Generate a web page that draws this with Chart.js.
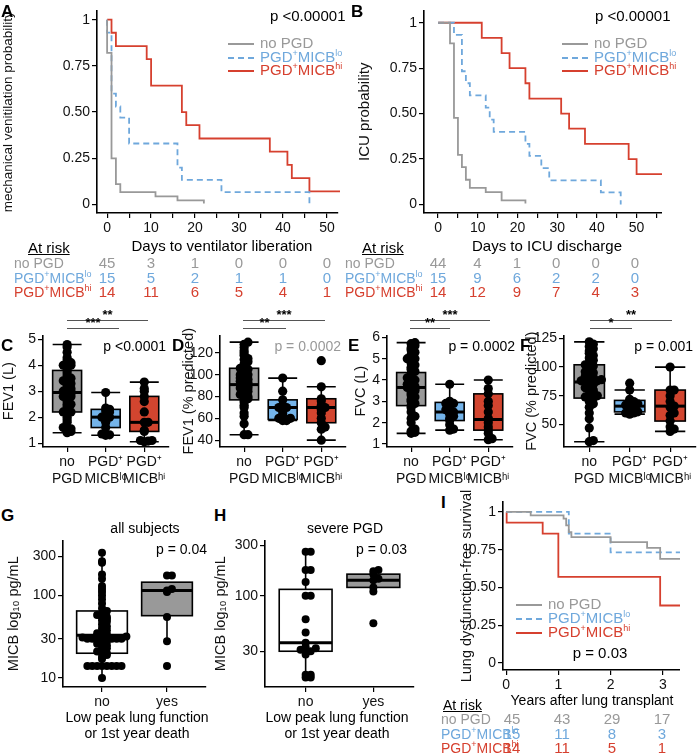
<!DOCTYPE html>
<html>
<head>
<meta charset="utf-8">
<script src="https://cdn.jsdelivr.net/npm/chart.js@4.4.1/dist/chart.umd.min.js"></script>
<style>
  body { margin:0; background:#fff; font-family:"Liberation Sans", Arial, sans-serif; }
  #wrap { position:relative; width:700px; height:753px; overflow:hidden; }
  canvas { position:absolute; }
  .t { position:absolute; white-space:nowrap; font-size:14px; line-height:14px; }
  .lt { position:absolute; font-weight:bold; font-size:17px; }
  sup { font-size:9px; vertical-align:6px; line-height:0; }
  .c { transform:translateX(-50%); }
  .r { transform:translateX(-100%); }
  .ln { position:absolute; width:26px; height:0; }
  .bar { position:absolute; height:0; border-top:1.2px solid #555; }
</style>
</head>
<body>
<div id="wrap"></div>
<script>
// colours
const GREY = '#999999', BLUE = '#6fa8dc', RED = '#d6402f';
const BOXGREY = '#999999', BOXBLUE = '#74b4ea', BOXRED = '#d2452f';

// ---- A: days to ventilator liberation
const aNoT = [0, 0, 1, 2, 3, 11, 16, 22, 22];
const aNoS = [1, 0.82, 0.25, 0.11, 0.067, 0.044, 0.022, 0.022, 0.005];
const aLoT = [0, 0, 1, 2, 3, 5, 16, 17, 26, 46];
const aLoS = [1, 0.93, 0.6, 0.53, 0.47, 0.33, 0.2, 0.133, 0.067, 0];
const aHiT = [0, 1, 2, 9, 10, 17, 18, 21, 37, 41, 42, 46, 53];
const aHiS = [1, 0.929, 0.857, 0.786, 0.643, 0.5, 0.429, 0.357, 0.286, 0.214, 0.143, 0.071, 0.071];
const aRiskNo = [45, 3, 1, 0, 0, 0];
const aRiskLo = [15, 5, 2, 1, 1, 0];
const aRiskHi = [14, 11, 6, 5, 4, 1];

// ---- B: days to ICU discharge
const bNoT = [0, 3, 4, 5, 6, 7, 8, 12, 16, 22, 22];
const bNoS = [1, 0.886, 0.477, 0.273, 0.205, 0.136, 0.091, 0.068, 0.023, 0.023, 0.005];
const bLoT = [0, 4, 6, 7, 8, 12, 13, 14, 22, 23, 26, 28, 41, 46];
const bLoS = [1, 0.933, 0.733, 0.667, 0.6, 0.533, 0.467, 0.4, 0.333, 0.267, 0.2, 0.133, 0.067, 0];
const bHiT = [0, 11, 16, 18, 22, 23, 31, 33, 37, 48, 50, 57];
const bHiS = [1, 0.917, 0.833, 0.75, 0.667, 0.583, 0.5, 0.417, 0.333, 0.25, 0.167, 0.167];
const bRiskNo = [44, 4, 1, 0, 0, 0];
const bRiskLo = [15, 9, 6, 2, 2, 0];
const bRiskHi = [14, 12, 9, 7, 4, 3];

// ---- I: years after lung transplant
const iNoT = [0, 0.47, 1.1, 1.15, 1.2, 1.25, 2.0, 2.7, 2.95, 3.33];
const iNoS = [1, 0.978, 0.956, 0.911, 0.867, 0.833, 0.8, 0.762, 0.69, 0.69];
const iLoT = [0, 1.2, 2.0, 3.33];
const iLoS = [1, 0.857, 0.733, 0.733];
const iHiT = [0, 0.01, 0.7, 1.0, 2.95, 3.33];
const iHiS = [1, 0.929, 0.857, 0.571, 0.381, 0.381];
const iRiskNo = [45, 43, 29, 17];
const iRiskLo = [15, 11, 8, 3];
const iRiskHi = [14, 11, 5, 1];

// ---- box plots: [min, q1, median, q3, max]
const groupLabels = [['no', 'PGD'], ['PGD⁺', 'MICBˡᵒ'], ['PGD⁺', 'MICBʰⁱ']];
const cStats = [[1.4, 2.2, 2.95, 3.8, 4.8], [1.3, 1.6, 2.0, 2.3, 2.95], [1.05, 1.45, 1.8, 2.8, 3.35]];
const cNo = [1.4,1.45,1.5,1.55,1.6,1.8,1.9,2.0,2.1,2.2,2.2,2.3,2.4,2.5,2.5,2.6,2.7,2.8,2.8,2.9,2.9,3.0,3.0,3.0,3.1,3.1,3.2,3.3,3.3,3.4,3.5,3.5,3.6,3.7,3.8,3.9,4.0,4.0,4.1,4.1,4.2,4.3,4.5,4.7,4.8];
const cLo = [1.3,1.32,1.35,1.6,1.8,1.9,2.0,2.0,2.0,2.1,2.2,2.25,2.3,2.35,2.95];
const cHi = [1.05,1.08,1.1,1.1,1.45,1.5,1.8,1.8,2.2,2.6,2.8,3.0,3.1,3.35];
const dStats = [[45, 77, 91, 106, 130], [58, 59, 70, 77, 97], [40, 56, 70, 78, 89]];
const dNo = [45,45,55,62,65,70,72,75,77,78,80,80,82,84,85,86,88,88,90,90,91,92,93,94,95,96,97,98,100,100,102,104,105,106,108,110,112,114,115,118,120,122,125,128,130];
const dLo = [58,58,59,59,60,60,62,65,68,70,70,72,77,85,97];
const dHi = [40,50,52,56,60,65,68,70,72,76,78,89,113];
const eStats = [[1.5, 2.8, 3.65, 4.35, 5.75], [1.65, 2.1, 2.5, 2.95, 3.8], [1.2, 1.65, 2.15, 3.35, 4.0]];
const eNo = [1.5,1.55,1.6,1.7,2.0,2.2,2.3,2.5,2.7,2.8,2.9,3.0,3.1,3.2,3.3,3.4,3.5,3.6,3.6,3.65,3.7,3.7,3.8,3.9,4.0,4.0,4.1,4.2,4.3,4.4,4.5,4.6,4.7,4.8,4.9,5.0,5.0,5.1,5.2,5.3,5.4,5.5,5.6,5.7,5.75];
const eLo = [1.65,1.7,1.9,2.1,2.2,2.3,2.4,2.5,2.5,2.6,2.8,2.9,2.9,3.0,3.8];
const eHi = [1.2,1.25,1.5,1.65,1.8,2.0,2.15,2.2,2.5,2.8,3.0,3.35,3.6,4.0];
const fStats = [[35, 73, 87, 102, 122], [59, 61, 66, 71, 80], [44, 53, 66, 80, 100]];
const fNo = [35,36,47,55,60,65,68,70,72,73,74,75,76,78,80,80,82,84,85,86,86,87,88,88,89,90,91,92,94,95,96,98,100,101,102,104,106,108,110,112,114,116,118,120,122];
const fLo = [59,60,60,61,62,64,65,66,67,68,70,70,72,80,86];
const fHi = [44,46,48,53,58,60,65,66,70,75,80,80,100];
const gStats = [[10, 20, 33, 65, 330], [28, 57, 115, 145, 145]];
const gNo = [10,14,14,14,14,14,14,14,14,17,18,19,20,20,21,22,23,24,25,26,27,28,29,30,30,30,30,30,30,30,30,31,32,33,34,35,36,38,40,42,45,48,50,52,55,55,58,60,65,70,80,90,100,110,120,130,160,180,250,260,330];
const gYes = [14,28,55,110,115,120,175,175];
const hStats = [[17, 30, 36, 115, 260], [120, 120, 140, 160, 175]];
const hNo = [17,17,18,18,28,30,30,31,32,33,36,45,60,100,100,135,175,175,260,260];
const hYes = [55,110,120,140,145,160,170,175];

Chart.defaults.font.family = '"Liberation Sans", Arial, sans-serif';
Chart.defaults.font.size = 14;
Chart.defaults.color = '#111';
Chart.defaults.animation = false;

// boxes, whiskers and medians drawn through the chart's scales
Chart.register({
  id: 'boxes',
  beforeDatasetsDraw(chart) {
    const o = chart.config.options.boxes;
    if (!o) return;
    const ctx = chart.ctx, xs = chart.scales.x, ys = chart.scales.y;
    o.stats.forEach((s, i) => {
      const cat = i + 1, hw = o.width / 2;
      const xc = xs.getPixelForValue(cat);
      const x0 = xs.getPixelForValue(cat - hw), x1 = xs.getPixelForValue(cat + hw);
      const [mn, q1, md, q3, mx] = s.map(v => ys.getPixelForValue(v));
      ctx.save();
      ctx.strokeStyle = '#000';
      ctx.lineWidth = 1.6;
      ctx.beginPath();
      ctx.moveTo(xc, mn); ctx.lineTo(xc, q1);
      ctx.moveTo(xc, q3); ctx.lineTo(xc, mx);
      if (o.caps) {
        ctx.moveTo(x0, mn); ctx.lineTo(x1, mn);
        ctx.moveTo(x0, mx); ctx.lineTo(x1, mx);
      }
      ctx.stroke();
      ctx.fillStyle = o.colors[i];
      ctx.fillRect(x0, q3, x1 - x0, q1 - q3);
      ctx.strokeRect(x0, q3, x1 - x0, q1 - q3);
      ctx.lineWidth = 3;
      ctx.beginPath(); ctx.moveTo(x0, md); ctx.lineTo(x1, md); ctx.stroke();
      ctx.restore();
    });
  }
});

const wrap = document.getElementById('wrap');

function place(left, top, w, h) {
  const c = document.createElement('canvas');
  c.width = w; c.height = h;
  c.style.left = left + 'px'; c.style.top = top + 'px';
  c.style.width = w + 'px'; c.style.height = h + 'px';
  wrap.appendChild(c);
  return c;
}

function axis(type, min, max, ticks, labels, fit, title, tsize) {
  const a = {
    type, min, max,
    afterBuildTicks: s => { s.ticks = ticks.map(v => ({ value: v })); },
    afterFit: fit,
    ticks: { callback: (v, i) => labels[i], autoSkip: false, maxRotation: 0, padding: 2, color: '#111' },
    grid: { drawOnChartArea: false, drawTicks: true, tickLength: 5, color: '#000', lineWidth: 1.2 },
    border: { color: '#000', width: 1.6 }
  };
  if (title) a.title = { display: true, text: title, padding: 0, font: { size: tsize || 15 }, color: '#111' };
  return a;
}

function km(T, S) { return T.map((t, i) => ({ x: t, y: S[i] })); }

function kmChart(left, top, w, h, yw, xh, pt, pr, xr, xTicks, xLabels, yr, title, tsize, no, lo, hi) {
  const yTicks = [0, 0.25, 0.5, 0.75, 1];
  const yLabels = ['0', '0.25', '0.50', '0.75', '1'];
  new Chart(place(left, top, w, h), {
    type: 'line',
    data: { datasets: [
      { data: no, borderColor: GREY, borderWidth: 1.8, stepped: 'before', pointRadius: 0, clip: false },
      { data: lo, borderColor: BLUE, borderWidth: 1.8, borderDash: [6, 4], stepped: 'before', pointRadius: 0, clip: false },
      { data: hi, borderColor: RED, borderWidth: 1.8, stepped: 'before', pointRadius: 0, clip: false }
    ] },
    options: {
      responsive: false, events: [],
      layout: { padding: { top: pt, right: pr, left: 0, bottom: 0 } },
      plugins: { legend: { display: false }, tooltip: { enabled: false } },
      scales: {
        x: axis('linear', xr[0], xr[1], xTicks, xLabels, s => { s.height = xh; }),
        y: axis('linear', yr[0], yr[1], yTicks, yLabels, s => { s.width = yw; }, title, tsize)
      }
    }
  });
}

// beeswarm-style offsets for tied values
function swarm(vals, cat, bin, d, log) {
  const groups = {};
  return vals.slice().sort((a, b) => a - b).map(v => {
    const k = Math.round((log ? Math.log10(v) : v) / bin);
    const n = groups[k] = (groups[k] || 0) + 1;
    const step = Math.floor(n / 2) * (n % 2 === 0 ? 1 : -1);
    return { x: cat + step * d, y: v };
  });
}

function boxChart(left, top, w, h, yw, xh, pt, ytype, yr, yTicks, yLabels, title, stats, colors, groups, bin, d, radius, xLab, bw, caps, xr) {
  const pts = [];
  groups.forEach((g, i) => pts.push(...swarm(g, i + 1, bin, d, ytype === 'logarithmic')));
  const xt = groups.map((g, i) => i + 1);
  new Chart(place(left, top, w, h), {
    type: 'scatter',
    data: { datasets: [{ data: pts, backgroundColor: '#000', borderWidth: 0, pointRadius: radius, clip: false }] },
    options: {
      responsive: false, events: [],
      boxes: { stats, colors, width: bw, caps },
      layout: { padding: { top: pt, right: 0, left: 0, bottom: 0 } },
      plugins: { legend: { display: false }, tooltip: { enabled: false } },
      scales: {
        x: axis('linear', xr[0], xr[1], xt, xLab, s => { s.height = xh; }),
        y: axis(ytype, yr[0], yr[1], yTicks, yLabels, s => { s.width = yw; }, title, 14.5)
      }
    }
  });
}

// A and B
const aTicks = [0, 5, 10, 15, 20, 25, 30, 35, 40, 45, 50];
const aLabels = aTicks.map(v => v % 10 === 0 ? String(v) : '');
kmChart(0, 0, 340, 240, 97, 27, 0, 2, [-2.3, 52.5], aTicks, aLabels, [-0.046, 1.05],
  'mechanical venitilation probability', 13.5, km(aNoT, aNoS), km(aLoT, aLoS), km(aHiT, aHiS));
const bTicks = [0, 5, 10, 15, 20, 25, 30, 35, 40, 45, 50, 55];
const bLabels = bTicks.map(v => v % 10 === 0 ? String(v) : '');
kmChart(356, 0, 306, 240, 68, 27, 0, 0, [-3.55, 56.4], bTicks, bLabels, [-0.047, 1.068],
  'ICU probability', 15, km(bNoT, bNoS), km(bLoT, bLoS), km(bHiT, bHiS));

// C - F
const xr3 = [0.375, 3.625];
boxChart(0, 325, 173, 160, 43, 38, 8, 'linear', [0.85, 5.15], [1, 2, 3, 4, 5], ['1', '2', '3', '4', '5'],
  'FEV1 (L)', cStats, [BOXGREY, BOXBLUE, BOXRED], [cNo, cLo, cHi], 0.12, 0.1, 4.6, groupLabels, 0.75, true, xr3);
boxChart(180, 325, 170, 160, 40, 38, 8, 'linear', [33.7, 136.2], [40, 60, 80, 100, 120], ['40', '60', '80', '100', '120'],
  'FEV1 (% predicted)', dStats, [BOXGREY, BOXBLUE, BOXRED], [dNo, dLo, dHi], 3, 0.1, 4.6, groupLabels, 0.75, true, xr3);
boxChart(352, 325, 165, 160, 35, 38, 8, 'linear', [0.86, 6.09], [1, 2, 3, 4, 5, 6], ['1', '2', '3', '4', '5', '6'],
  'FVC (L)', eStats, [BOXGREY, BOXBLUE, BOXRED], [eNo, eLo, eHi], 0.15, 0.1, 4.6, groupLabels, 0.75, true, xr3);
boxChart(523, 325, 177, 160, 41, 38, 8, 'linear', [30.4, 127.6], [50, 75, 100, 125], ['50', '75', '100', '125'],
  'FVC (% predicted)', fStats, [BOXGREY, BOXBLUE, BOXRED], [fNo, fLo, fHi], 3.5, 0.1, 4.6, groupLabels, 0.75, true, xr3);

// G, H
boxChart(5, 530, 205, 180, 58, 23, 8, 'logarithmic', [7.8, 465], [10, 30, 100, 300], ['10', '30', '100', '300'],
  'MICB log₁₀ pg/mL', gStats, ['#ffffff', BOXGREY], [gNo, gYes], 0.045, 0.075, 4, ['no', 'yes'], 0.78, false, [0.4, 2.6]);
boxChart(212, 530, 206, 180, 53, 23, 8, 'logarithmic', [13.8, 333], [30, 100, 300], ['30', '100', '300'],
  'MICB log₁₀ pg/mL', hStats, ['#ffffff', BOXGREY], [hNo, hYes], 0.045, 0.075, 4, ['no', 'yes'], 0.78, false, [0.4, 2.6]);

// I
kmChart(458, 470, 222, 220, 45, 20, 32, 0, [-0.06, 3.33], [0, 1, 2, 3], ['0', '1', '2', '3'], [-0.046, 1.066],
  'Lung dysfunction-free survival', 14.5, km(iNoT, iNoS), km(iLoT, iLoS), km(iHiT, iHiS));

// ---- text overlays
function txt(html, x, y, cls, style) {
  const d = document.createElement('div');
  d.className = 't ' + (cls || '');
  d.innerHTML = html;
  d.style.left = x + 'px'; d.style.top = (y - 7) + 'px';
  if (style) d.style.cssText += style;
  wrap.appendChild(d);
}
function letter(s, x, y) {
  const d = document.createElement('div');
  d.className = 'lt'; d.textContent = s;
  d.style.left = x + 'px'; d.style.top = y + 'px';
  wrap.appendChild(d);
}
const LO = 'PGD<sup>+</sup>MICB<sup>lo</sup>', HI = 'PGD<sup>+</sup>MICB<sup>hi</sup>';

function legend(x, y, gap) {
  const rows = [['no PGD', GREY, 'solid'], [LO, BLUE, 'dashed'], [HI, RED, 'solid']];
  rows.forEach((r, i) => {
    const l = document.createElement('div');
    l.className = 'ln';
    l.style.left = x + 'px'; l.style.top = (y + i * gap) + 'px';
    l.style.borderTop = '2px ' + r[2] + ' ' + r[1];
    wrap.appendChild(l);
    txt(r[0], x + 32, y + i * gap, '', 'font-size:15px;color:' + r[1]);
  });
}
function riskTable(lx, y, x0, dx, no, lo, hi) {
  const rows = [['no PGD', GREY, no], [LO, BLUE, lo], [HI, RED, hi]];
  rows.forEach((r, i) => {
    txt(r[0], lx, y + i * 14.5, '', 'font-size:14px;color:' + r[1]);
    r[2].forEach((n, k) => txt(String(n), x0 + k * dx, y + i * 14.5, 'c', 'font-size:15px;color:' + r[1]));
  });
}
function sig(stars, x0, x1, y) {
  const b = document.createElement('div');
  b.className = 'bar';
  b.style.left = x0 + 'px'; b.style.top = y + 'px'; b.style.width = (x1 - x0) + 'px';
  wrap.appendChild(b);
  txt(stars, (x0 + x1) / 2, y - 5, 'c', 'font-size:13px;font-weight:bold');
}

letter('A', 1, 2); letter('B', 351, 2);
letter('C', 1, 336); letter('D', 172, 336); letter('E', 348, 336); letter('F', 520, 336);
letter('G', 1, 506); letter('H', 214, 506); letter('I', 441, 493);

txt('p &lt;0.00001', 270, 16, '', 'font-size:15px');
txt('p &lt;0.00001', 595, 16, '', 'font-size:15px');
legend(228, 43, 13.5); legend(562, 43, 13.5);
txt('Days to ventilator liberation', 222, 246, 'c', 'font-size:15px');
txt('Days to ICU discharge', 547, 246, 'c', 'font-size:15px');
txt('At risk', 28, 248, '', 'font-size:15px;text-decoration:underline');
txt('At risk', 362, 248, '', 'font-size:15px;text-decoration:underline');
riskTable(14, 263, 107, 44, aRiskNo, aRiskLo, aRiskHi);
riskTable(345, 263, 438, 39.4, bRiskNo, bRiskLo, bRiskHi);

sig('**', 67, 148, 320); sig('***', 67, 119, 328);
sig('***', 243, 325, 320); sig('**', 243, 286, 328);
sig('***', 410, 490, 320); sig('**', 410, 450, 328);
sig('**', 590, 672, 320); sig('*', 590, 632, 328);
txt('p &lt;0.0001', 166, 346, 'r');
txt('p = 0.0002', 341, 346, 'r', 'color:#999');
txt('p = 0.0002', 515, 346, 'r');
txt('p = 0.001', 693, 346, 'r');

txt('all subjects', 145, 528, 'c');
txt('severe PGD', 345, 528, 'c');
txt('p = 0.04', 207, 549, 'r');
txt('p = 0.03', 407, 549, 'r');
txt('Low peak lung function', 137, 717, 'c'); txt('or 1st year death', 137, 733, 'c');
txt('Low peak lung function', 337, 717, 'c'); txt('or 1st year death', 337, 733, 'c');

legend(516, 604, 14);
txt('p = 0.03', 600, 653, 'c', 'font-size:15px');
txt('Years after lung transplant', 592, 700, 'c');
txt('At risk', 443, 705, '', 'text-decoration:underline');
riskTable(441, 719, 512, 50, iRiskNo, iRiskLo, iRiskHi);
</script>
</body>
</html>
